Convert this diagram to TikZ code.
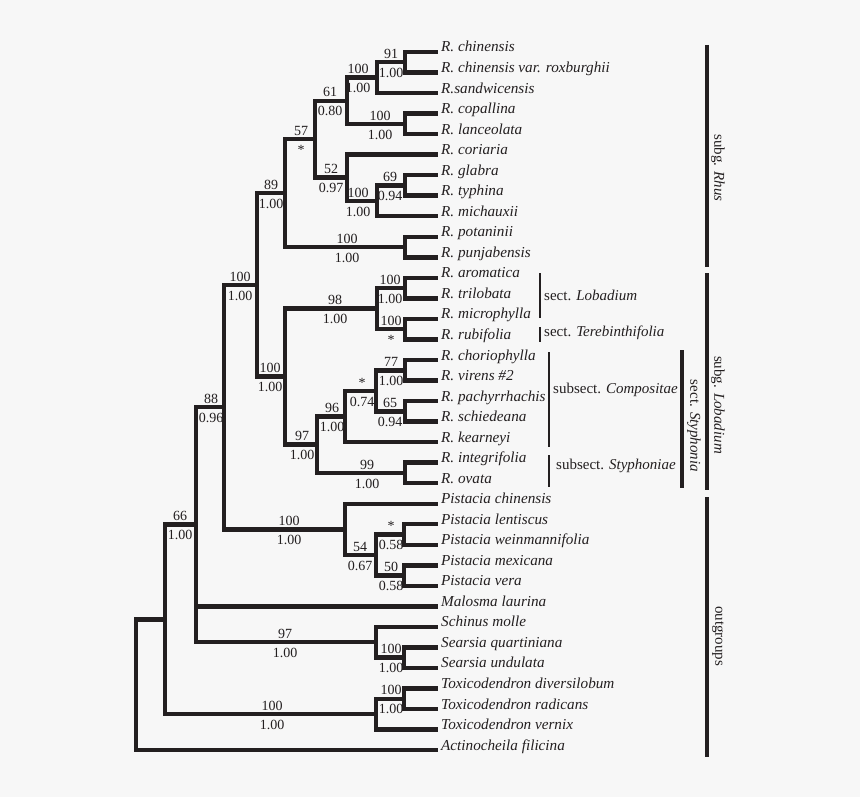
\documentclass[tikz,border=0pt]{standalone}
\usepackage{fontspec}
\setmainfont{Liberation Serif}
\definecolor{ink}{HTML}{231F20}
\definecolor{bg}{HTML}{F7F7F7}
\newcommand\brlab[5]{%
  \node[num] (#1-t) at (#2,#3-3.8) {#4};
  \node[num] (#1-b) at (#2,#3+15.2) {#5};}
\begin{document}
\begin{tikzpicture}[x=1pt,y=-1pt,
  br/.style={draw=ink,line width=4.4pt,line cap=rect,line join=miter},
  leaf/.style={anchor=base west,inner xsep=5pt,inner ysep=0pt,text=ink,font=\fontsize{15.2}{15.2}\selectfont\itshape},
  num/.style={anchor=base,inner sep=0pt,text=ink,font=\fontsize{14}{14}\selectfont},
  thinbar/.style={draw=ink,line width=1.2pt},
  bigbar/.style={draw=ink,line width=4.4pt},
  midbar/.style={draw=ink,line width=3.4pt},
  grp/.style={text=ink,font=\fontsize{15}{15}\selectfont,anchor=west,inner sep=0pt},
  rot/.style={text=ink,font=\fontsize{15}{15}\selectfont,rotate=-90,inner sep=0pt}]
\fill[bg] (0,0) rectangle (860,797);
\useasboundingbox (0,0) rectangle (860,797);

% leaves
\node[leaf] (L1) at (436,52.0) {R. chinensis};
\node[leaf] (L2) at (436,72.5) {R. chinensis var. roxburghii};
\node[leaf] (L3) at (436,93.1) {R.sandwicensis};
\node[leaf] (L4) at (436,113.6) {R. copallina};
\node[leaf] (L5) at (436,134.1) {R. lanceolata};
\node[leaf] (L6) at (436,154.7) {R. coriaria};
\node[leaf] (L7) at (436,175.2) {R. glabra};
\node[leaf] (L8) at (436,195.7) {R. typhina};
\node[leaf] (L9) at (436,216.2) {R. michauxii};
\node[leaf] (L10) at (436,236.8) {R. potaninii};
\node[leaf] (L11) at (436,257.3) {R. punjabensis};
\node[leaf] (L12) at (436,277.8) {R. aromatica};
\node[leaf] (L13) at (436,298.4) {R. trilobata};
\node[leaf] (L14) at (436,318.9) {R. microphylla};
\node[leaf] (L15) at (436,339.4) {R. rubifolia};
\node[leaf] (L16) at (436,360.0) {R. choriophylla};
\node[leaf] (L17) at (436,380.5) {R. virens \#2};
\node[leaf] (L18) at (436,401.0) {R. pachyrrhachis};
\node[leaf] (L19) at (436,421.5) {R. schiedeana};
\node[leaf] (L20) at (436,442.1) {R. kearneyi};
\node[leaf] (L21) at (436,462.6) {R. integrifolia};
\node[leaf] (L22) at (436,483.1) {R. ovata};
\node[leaf] (L23) at (436,503.7) {Pistacia chinensis};
\node[leaf] (L24) at (436,524.2) {Pistacia lentiscus};
\node[leaf] (L25) at (436,544.7) {Pistacia weinmannifolia};
\node[leaf] (L26) at (436,565.3) {Pistacia mexicana};
\node[leaf] (L27) at (436,585.8) {Pistacia vera};
\node[leaf] (L28) at (436,606.3) {Malosma laurina};
\node[leaf] (L29) at (436,626.8) {Schinus molle};
\node[leaf] (L30) at (436,647.4) {Searsia quartiniana};
\node[leaf] (L31) at (436,667.9) {Searsia undulata};
\node[leaf] (L32) at (436,688.4) {Toxicodendron diversilobum};
\node[leaf] (L33) at (436,709.0) {Toxicodendron radicans};
\node[leaf] (L34) at (436,729.5) {Toxicodendron vernix};
\node[leaf] (L35) at (436,750.0) {Actinocheila filicina};

% internal nodes
\coordinate (n91) at (405,62.3);
\coordinate (n100a) at (377,77.7);
\coordinate (n100c) at (405,123.9);
\coordinate (n61) at (347,100.8);
\coordinate (n69) at (405,185.4);
\coordinate (n100b) at (377,200.8);
\coordinate (n52) at (347,177.7);
\coordinate (n57) at (315,139.3);
\coordinate (n100p) at (405,247.0);
\coordinate (n89) at (285,193.1);
\coordinate (n100ar) at (405,288.1);
\coordinate (n100mi) at (405,329.2);
\coordinate (n98) at (377,308.6);
\coordinate (n77) at (405,370.3);
\coordinate (n65) at (405,411.3);
\coordinate (nstar) at (376,390.8);
\coordinate (n96) at (345,416.4);
\coordinate (n99) at (405,472.9);
\coordinate (n97) at (317,444.6);
\coordinate (n100L) at (285,376.6);
\coordinate (n100R) at (257,284.9);
\coordinate (nps) at (404,534.5);
\coordinate (n50) at (404,575.5);
\coordinate (n54) at (376,555.0);
\coordinate (nP100) at (345,529.3);
\coordinate (n88) at (224,407.1);
\coordinate (nS100) at (404,657.6);
\coordinate (n97s) at (376,642.2);
\coordinate (n66) at (196,524.6);
\coordinate (nT100) at (404,698.7);
\coordinate (nT) at (376,714.1);
\coordinate (nC) at (165,619.4);
\coordinate (root) at (136,684.7);

% branches
\draw[br] (n91) |- (L1.base west);
\draw[br] (n91) |- (L2.base west);
\draw[br] (n100a) |- (n91);
\draw[br] (n100a) |- (L3.base west);
\draw[br] (n100c) |- (L4.base west);
\draw[br] (n100c) |- (L5.base west);
\draw[br] (n61) |- (n100a);
\draw[br] (n61) |- (n100c);
\draw[br] (n69) |- (L7.base west);
\draw[br] (n69) |- (L8.base west);
\draw[br] (n100b) |- (n69);
\draw[br] (n100b) |- (L9.base west);
\draw[br] (n52) |- (L6.base west);
\draw[br] (n52) |- (n100b);
\draw[br] (n57) |- (n61);
\draw[br] (n57) |- (n52);
\draw[br] (n100p) |- (L10.base west);
\draw[br] (n100p) |- (L11.base west);
\draw[br] (n89) |- (n57);
\draw[br] (n89) |- (n100p);
\draw[br] (n100ar) |- (L12.base west);
\draw[br] (n100ar) |- (L13.base west);
\draw[br] (n100mi) |- (L14.base west);
\draw[br] (n100mi) |- (L15.base west);
\draw[br] (n98) |- (n100ar);
\draw[br] (n98) |- (n100mi);
\draw[br] (n77) |- (L16.base west);
\draw[br] (n77) |- (L17.base west);
\draw[br] (n65) |- (L18.base west);
\draw[br] (n65) |- (L19.base west);
\draw[br] (nstar) |- (n77);
\draw[br] (nstar) |- (n65);
\draw[br] (n96) |- (nstar);
\draw[br] (n96) |- (L20.base west);
\draw[br] (n99) |- (L21.base west);
\draw[br] (n99) |- (L22.base west);
\draw[br] (n97) |- (n96);
\draw[br] (n97) |- (n99);
\draw[br] (n100L) |- (n98);
\draw[br] (n100L) |- (n97);
\draw[br] (n100R) |- (n89);
\draw[br] (n100R) |- (n100L);
\draw[br] (nps) |- (L24.base west);
\draw[br] (nps) |- (L25.base west);
\draw[br] (n50) |- (L26.base west);
\draw[br] (n50) |- (L27.base west);
\draw[br] (n54) |- (nps);
\draw[br] (n54) |- (n50);
\draw[br] (nP100) |- (L23.base west);
\draw[br] (nP100) |- (n54);
\draw[br] (n88) |- (n100R);
\draw[br] (n88) |- (nP100);
\draw[br] (nS100) |- (L30.base west);
\draw[br] (nS100) |- (L31.base west);
\draw[br] (n97s) |- (L29.base west);
\draw[br] (n97s) |- (nS100);
\draw[br] (n66) |- (n88);
\draw[br] (n66) |- (L28.base west);
\draw[br] (n66) |- (n97s);
\draw[br] (nT100) |- (L32.base west);
\draw[br] (nT100) |- (L33.base west);
\draw[br] (nT) |- (nT100);
\draw[br] (nT) |- (L34.base west);
\draw[br] (nC) |- (n66);
\draw[br] (nC) |- (nT);
\draw[br] (root) |- (nC);
\draw[br] (root) |- (L35.base west);

% support labels
\brlab{l91}{391}{62.3}{91}{1.00}
\brlab{l100a}{358}{77.7}{100}{1.00}
\brlab{l100c}{380}{123.9}{100}{1.00}
\brlab{l61}{330}{100.8}{61}{0.80}
\brlab{l69}{390}{185.4}{69}{0.94}
\brlab{l100b}{358}{200.8}{100}{1.00}
\brlab{l52}{331}{177.7}{52}{0.97}
\brlab{l57}{301}{139.3}{57}{*}
\brlab{l100p}{347}{247.0}{100}{1.00}
\brlab{l89}{271}{193.1}{89}{1.00}
\brlab{l100ar}{390}{288.1}{100}{1.00}
\brlab{l100mi}{391}{329.2}{100}{*}
\brlab{l98}{335}{308.6}{98}{1.00}
\brlab{l77}{391}{370.3}{77}{1.00}
\brlab{l65}{390}{411.3}{65}{0.94}
\brlab{lstar}{362}{390.8}{*}{0.74}
\brlab{l96}{332}{416.4}{96}{1.00}
\brlab{l99}{367}{472.9}{99}{1.00}
\brlab{l97}{302}{444.6}{97}{1.00}
\brlab{l100L}{270}{376.6}{100}{1.00}
\brlab{l100R}{240}{284.9}{100}{1.00}
\brlab{lps}{391}{534.5}{*}{0.58}
\brlab{l50}{391}{575.5}{50}{0.58}
\brlab{l54}{360}{555.0}{54}{0.67}
\brlab{lP100}{289}{529.3}{100}{1.00}
\brlab{l88}{211}{407.1}{88}{0.96}
\brlab{lS100}{391}{657.6}{100}{1.00}
\brlab{l97s}{285}{642.2}{97}{1.00}
\brlab{l66}{180}{524.6}{66}{1.00}
\brlab{lT100}{391}{698.7}{100}{1.00}
\brlab{lT}{272}{714.1}{100}{1.00}

% group brackets
\draw[thinbar] (540,273) -- (540,318);
\node[grp] (gLob) at (544,295) {sect. \textit{Lobadium}};
\draw[thinbar] (540,327) -- (540,342);
\node[grp] (gTer) at (544,333) {sect. \textit{Terebinthifolia}};
\draw[thinbar] (549,352) -- (549,447);
\node[grp] (gCom) at (553,390) {subsect. \textit{Compositae}};
\draw[thinbar] (549,455) -- (549,487);
\node[grp] (gSty) at (556,466) {subsect. \textit{Styphoniae}};
\draw[midbar] (682,350) -- (682,488);
\node[rot] (gSect) at (694,426) {sect. \textit{Styphonia}};
\draw[bigbar] (707,45) -- (707,267);
\node[rot] (gRhus) at (718,168) {subg. \textit{Rhus}};
\draw[bigbar] (707,273) -- (707,490);
\node[rot] (gLobg) at (718,405) {subg. \textit{Lobadium}};
\draw[bigbar] (707,497) -- (707,757);
\node[rot] (gOut) at (718,636) {outgroups};
\end{tikzpicture}
\end{document}
